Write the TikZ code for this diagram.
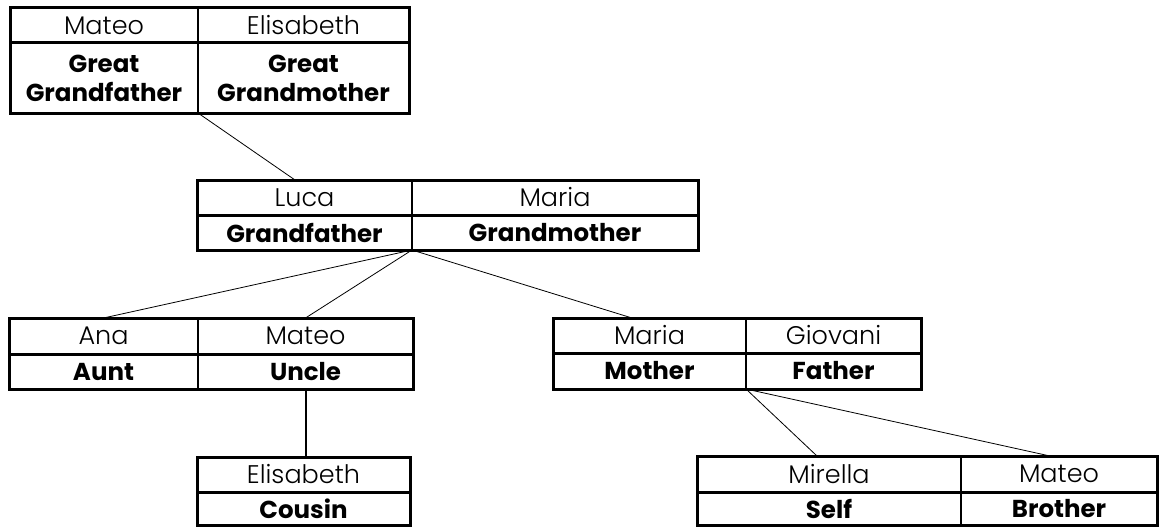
\documentclass[tikz,border=0pt]{standalone}
\usepackage{fontspec}
\setmainfont{Poppins}[UprightFont={* Light}, BoldFont={* Bold}]
\begin{document}
\begin{tikzpicture}[x=1pt,y=-1pt,
  cell/.style={draw, line width=1.8pt, rectangle, inner sep=0pt, outer sep=0pt,
    anchor=north west, align=center},
  namecell/.style={cell, font=\fontsize{25.5}{27}\selectfont},
  rolecell/.style={cell, font=\fontsize{24.5}{29}\selectfont\bfseries},
  frame/.style={line width=3pt},
  link/.style={line width=0.8pt},
  trunk/.style={line width=2pt},
]
\useasboundingbox (0,0) rectangle (1160,527);

% Great grandparents
\node[namecell, minimum width=188pt, minimum height=35pt] (gg-n1) at (10,8) {Mateo};
\node[namecell, minimum width=211pt, minimum height=35pt] (gg-n2) at (198,8) {Elisabeth};
\node[rolecell, minimum width=188pt, minimum height=70pt] (gg-r1) at (10,43) {Great\\Grandfather};
\node[rolecell, minimum width=211pt, minimum height=70pt] (gg-r2) at (198,43) {Great\\Grandmother};
\draw[frame] (gg-n1.north west) rectangle (gg-r2.south east);
\draw[frame] (gg-n1.south west) -- (gg-n2.south east);

% Grandparents
\node[namecell, minimum width=215pt, minimum height=35pt] (gp-n1) at (197,180) {Luca};
\node[namecell, minimum width=286pt, minimum height=35pt] (gp-n2) at (412,180) {Maria};
\node[rolecell, minimum width=215pt, minimum height=35pt] (gp-r1) at (197,215) {Grandfather};
\node[rolecell, minimum width=286pt, minimum height=35pt] (gp-r2) at (412,215) {Grandmother};
\draw[frame] (gp-n1.north west) rectangle (gp-r2.south east);
\draw[frame] (gp-n1.south west) -- (gp-n2.south east);

% Aunt and uncle
\node[namecell, minimum width=189pt, minimum height=36pt] (au-n1) at (9,318) {Ana};
\node[namecell, minimum width=215pt, minimum height=36pt] (au-n2) at (198,318) {Mateo};
\node[rolecell, minimum width=189pt, minimum height=35pt] (au-r1) at (9,354) {Aunt};
\node[rolecell, minimum width=215pt, minimum height=35pt] (au-r2) at (198,354) {Uncle};
\draw[frame] (au-n1.north west) rectangle (au-r2.south east);
\draw[frame] (au-n1.south west) -- (au-n2.south east);

% Parents
\node[namecell, minimum width=193pt, minimum height=35pt] (pa-n1) at (553,318) {Maria};
\node[namecell, minimum width=175pt, minimum height=35pt] (pa-n2) at (746,318) {Giovani};
\node[rolecell, minimum width=193pt, minimum height=36pt] (pa-r1) at (553,353) {Mother};
\node[rolecell, minimum width=175pt, minimum height=36pt] (pa-r2) at (746,353) {Father};
\draw[frame] (pa-n1.north west) rectangle (pa-r2.south east);
\draw[frame] (pa-n1.south west) -- (pa-n2.south east);

% Cousin
\node[namecell, minimum width=213pt, minimum height=35pt] (co-n1) at (197,457) {Elisabeth};
\node[rolecell, minimum width=213pt, minimum height=33.5pt] (co-r1) at (197,492) {Cousin};
\draw[frame] (co-n1.north west) rectangle (co-r1.south east);
\draw[frame] (co-n1.south west) -- (co-n1.south east);

% Self and brother
\node[namecell, minimum width=264pt, minimum height=36pt] (sb-n1) at (697,456) {Mirella};
\node[namecell, minimum width=196pt, minimum height=36pt] (sb-n2) at (961,456) {Mateo};
\node[rolecell, minimum width=264pt, minimum height=33.5pt] (sb-r1) at (697,492) {Self};
\node[rolecell, minimum width=196pt, minimum height=33.5pt] (sb-r2) at (961,492) {Brother};
\draw[frame] (sb-n1.north west) rectangle (sb-r2.south east);
\draw[frame] (sb-n1.south west) -- (sb-n2.south east);

% Attachment points on the upper edges
\coordinate (gp-in) at (295,180);
\coordinate (pa-in) at (632,318);
\coordinate (sb-in1) at (817,456);
\coordinate (sb-in2) at (1050,456);

% Connectors
\draw[link] (gg-r1.south east) -- (gp-in);
\draw[link] (gp-r1.south east) -- (au-n1.north);
\draw[link] (gp-r1.south east) -- (au-n2.north);
\draw[link] (gp-r1.south east) -- (pa-in);
\draw[trunk] (au-r2.south) -- (au-r2.south |- co-n1.north);
\draw[link] (pa-r1.south east) -- (sb-in1);
\draw[link] (pa-r1.south east) -- (sb-in2);
\end{tikzpicture}
\end{document}
